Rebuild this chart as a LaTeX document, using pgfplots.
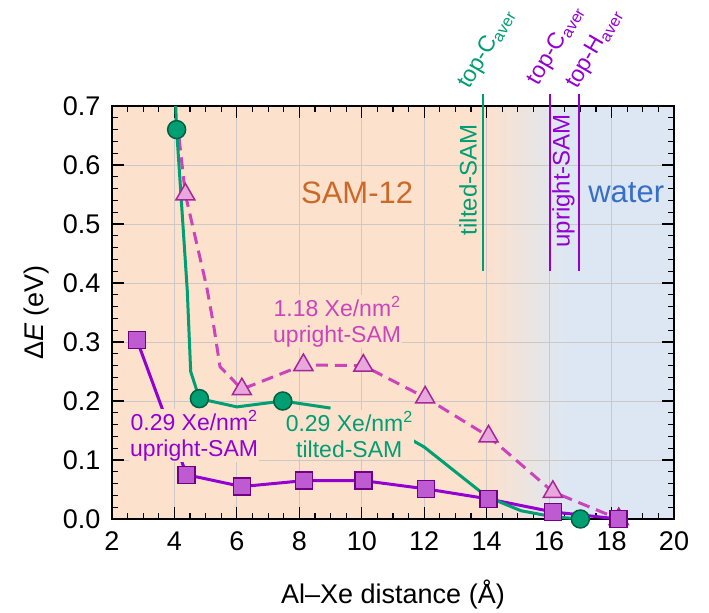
\documentclass[border=0pt]{standalone}
\usepackage{fontspec}
\setmainfont{Liberation Sans}
\usepackage{pgfplots}
\pgfplotsset{compat=1.18}

\definecolor{peach}{RGB}{252,225,205}
\definecolor{midc}{RGB}{240,234,232}
\definecolor{wblue}{RGB}{221,231,243}
\definecolor{tgreen}{RGB}{0,158,115}
\definecolor{tgreendark}{RGB}{0,95,65}
\definecolor{upurple}{RGB}{148,0,211}
\definecolor{sqfill}{RGB}{190,90,210}
\definecolor{sqedge}{RGB}{115,0,130}
\definecolor{umag}{RGB}{204,68,187}
\definecolor{trifill}{RGB}{232,168,222}
\definecolor{triedge}{RGB}{165,40,150}
\definecolor{samorange}{RGB}{205,105,40}
\definecolor{waterblue}{RGB}{55,110,200}
\definecolor{gridc}{RGB}{205,200,198}

\begin{document}
\begin{tikzpicture}
\begin{axis}[
  at={(0,0)}, anchor=south west,
  set layers,
  width=562pt, height=413pt, scale only axis,
  xmin=2, xmax=20, ymin=0, ymax=0.7,
  clip=false,
  xtick={2,4,...,20}, minor x tick num=3,
  ytick={0,0.1,0.2,0.3,0.4,0.5,0.6,0.7}, minor y tick num=4,
  tick align=inside,
  major tick length=12pt, minor tick length=6pt,
  every tick/.style={black, line width=1.2pt},
  axis line style={line width=1.5pt},
  grid=major, major grid style={gridc, line width=0.8pt},
  /pgf/number format/assume math mode=true,
  tick label style={font=\fontsize{27}{31}\selectfont},
  yticklabel style={/pgf/number format/fixed, /pgf/number format/fixed zerofill, /pgf/number format/precision=1, /tikz/xshift=-8pt},
  xticklabel style={/tikz/yshift=-9pt},
  xlabel={Al–Xe distance (Å)},
  ylabel={Δ\textit{E} (eV)},
  label style={font=\fontsize{27}{31}\selectfont},
  xlabel style={at={(axis description cs:0.5,-0.182)}, anchor=center},
  ylabel style={at={(axis description cs:-0.135,0.5)}, anchor=center},
]
\begin{pgfonlayer}{axis background}
\fill[peach] (axis cs:2,0) rectangle (axis cs:14,0.7);
\shade[left color=peach, middle color=midc, right color=wblue] (axis cs:14,0) rectangle (axis cs:16.5,0.7);
\fill[wblue] (axis cs:16.5,0) rectangle (axis cs:20,0.7);
\end{pgfonlayer}

% 1.18 Xe/nm2 upright-SAM (dashed)
\addplot[umag, line width=3pt, dash pattern=on 12pt off 7pt, no markers] coordinates {
  (4.15,0.645) (4.35,0.55) (5.03,0.394) (5.25,0.33) (5.46,0.258) (6.16,0.22)
  (8.13,0.261) (10.05,0.26) (12.03,0.206) (14.06,0.14) (16.12,0.046) (18.23,0.0)
};
% 0.29 Xe/nm2 upright-SAM
\addplot[upurple, line width=3pt, no markers] coordinates {
  (2.80,0.303) (4.39,0.075) (6.16,0.055) (8.15,0.065) (10.05,0.065)
  (12.06,0.051) (14.06,0.034) (16.12,0.012) (18.23,0.0)
};
% 0.29 Xe/nm2 tilted-SAM (hidden behind its label between 9 and 11.3)
\addplot[tgreen, line width=3pt, no markers] coordinates {
  (4.04,0.70) (4.07,0.66) (4.41,0.388) (4.52,0.25) (4.80,0.204) (6.0,0.19)
  (7.47,0.20) (9.0,0.188)
};
\addplot[tgreen, line width=3pt, no markers] coordinates {
  (11.34,0.142) (12.0,0.122) (13.0,0.08) (14.0,0.038)
  (15.1,0.014) (16.1,0.004) (17.0,0.0)
};

% region labels
\node[samorange, font=\fontsize{31}{35}\selectfont] at (axis cs:9.85,0.5525) {SAM-12};
\node[waterblue, font=\fontsize{31}{35}\selectfont] at (axis cs:18.47,0.5525) {water};

% series labels
\node[umag, fill=peach, inner sep=1pt, align=center, font=\fontsize{23}{26}\selectfont] at (axis cs:9.21,0.334) {1.18 Xe/nm\textsuperscript{2}\\upright-SAM};
\node[upurple, fill=peach, inner sep=1pt, align=center, font=\fontsize{23}{26}\selectfont] at (axis cs:4.63,0.141) {0.29 Xe/nm\textsuperscript{2}\\upright-SAM};
\node[tgreen, fill=peach, inner sep=1pt, align=center, font=\fontsize{23}{26}\selectfont] at (axis cs:9.60,0.143) {0.29 Xe/nm\textsuperscript{2}\\tilted-SAM};

% surface lines
\draw[tgreen, line width=1.8pt] (axis cs:13.88,0.42) -- (axis cs:13.88,0.72);
\draw[upurple, line width=1.8pt] (axis cs:16.04,0.42) -- (axis cs:16.04,0.72);
\draw[upurple, line width=1.8pt] (axis cs:16.95,0.42) -- (axis cs:16.95,0.72);
\node[tgreen, rotate=90, font=\fontsize{24}{28}\selectfont] at (axis cs:13.40,0.575) {tilted-SAM};
\node[upurple, rotate=90, font=\fontsize{24}{28}\selectfont] at (axis cs:16.46,0.573) {upright-SAM};
\node[tgreen, rotate=60, anchor=base west, inner sep=0pt, font=\fontsize{23}{27}\selectfont] at (axis cs:13.45,0.727) {top-C\textsubscript{aver}};
\node[upurple, rotate=60, anchor=base west, inner sep=0pt, font=\fontsize{23}{27}\selectfont] at (axis cs:15.66,0.733) {top-C\textsubscript{aver}};
\node[upurple, rotate=60, anchor=base west, inner sep=0pt, font=\fontsize{23}{27}\selectfont] at (axis cs:16.89,0.727) {top-H\textsubscript{aver}};

% markers
\addplot[only marks, mark=triangle*, mark size=11pt, mark options={fill=trifill, draw=triedge, line width=1.5pt}] coordinates {
  (4.35,0.55) (6.16,0.22) (8.13,0.261) (10.05,0.26) (12.03,0.206) (14.06,0.14) (16.12,0.046) (18.23,0.0)
};
\addplot[only marks, mark=square*, mark size=8.5pt, mark options={fill=sqfill, draw=sqedge, line width=1.5pt}] coordinates {
  (2.80,0.303) (4.39,0.075) (6.16,0.055) (8.15,0.065) (10.05,0.065) (12.06,0.051) (14.06,0.034) (16.12,0.012) (18.23,0.0)
};
\addplot[only marks, mark=*, mark size=9pt, mark options={fill=tgreen, draw=tgreendark, line width=1.5pt}] coordinates {
  (4.07,0.66) (4.80,0.204) (7.47,0.20) (17.0,0.0)
};
\end{axis}
\path (-112pt,-92pt) (597pt,519pt);
\end{tikzpicture}
\end{document}
